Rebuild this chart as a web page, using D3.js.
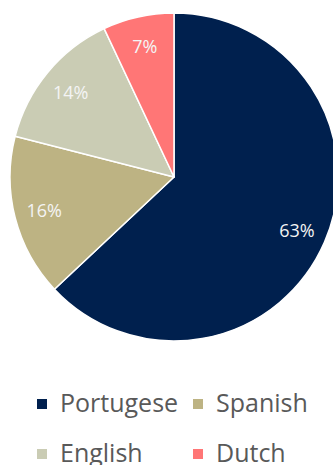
<!DOCTYPE html>
<html><head><meta charset="utf-8">
<script src="https://cdn.jsdelivr.net/npm/d3@7"></script>
<style>html,body{margin:0;padding:0;background:#fff;}svg{display:block;}</style>
</head><body>
<svg id="chart" width="333" height="465"></svg>
<script>
const categories = ["Portugese", "Spanish", "English", "Dutch"];
const values = [63, 16, 14, 7];
const labels = ["63%", "16%", "14%", "7%"];
const colors = ["#00204E", "#BDB383", "#CACCB4", "#FF7676"];

const svg = d3.select("#chart");
const cx = 174, cy = 177, R = 164, labelR = 134;
const data = categories.map((c, i) => ({cat: c, value: values[i], label: labels[i], color: colors[i]}));

const pie = d3.pie().value(d => d.value).sort(null);
const arc = d3.arc().innerRadius(0).outerRadius(R);
const labelArc = d3.arc().innerRadius(labelR).outerRadius(labelR);
const arcs = pie(data);

const g = svg.append("g").attr("transform", `translate(${cx},${cy})`);
g.selectAll("path").data(arcs).join("path")
  .attr("d", arc).attr("fill", d => d.data.color)
  .attr("stroke", "#fff").attr("stroke-width", 1.5).attr("stroke-linejoin", "round");
g.selectAll("text").data(arcs).join("text")
  .attr("transform", d => `translate(${labelArc.centroid(d)})`)
  .attr("text-anchor", "middle").attr("dominant-baseline", "central")
  .attr("font-family", "Open Sans").attr("font-size", 18)
  .attr("fill", "#F4F4F4")
  .text(d => d.data.label);

const legendPos = [[37, 404], [193, 404], [37, 454], [193, 454]];
const lg = svg.append("g").selectAll("g").data(data).join("g")
  .attr("transform", (d, i) => `translate(${legendPos[i][0]},${legendPos[i][1]})`);
lg.append("rect").attr("x", 0).attr("y", -5).attr("width", 10).attr("height", 10)
  .attr("fill", d => d.color);
lg.append("text").attr("x", 23).attr("y", 8)
  .attr("font-family", "Open Sans").attr("font-size", 25).attr("fill", "#595959")
  .text(d => d.cat);
</script>
</body></html>
